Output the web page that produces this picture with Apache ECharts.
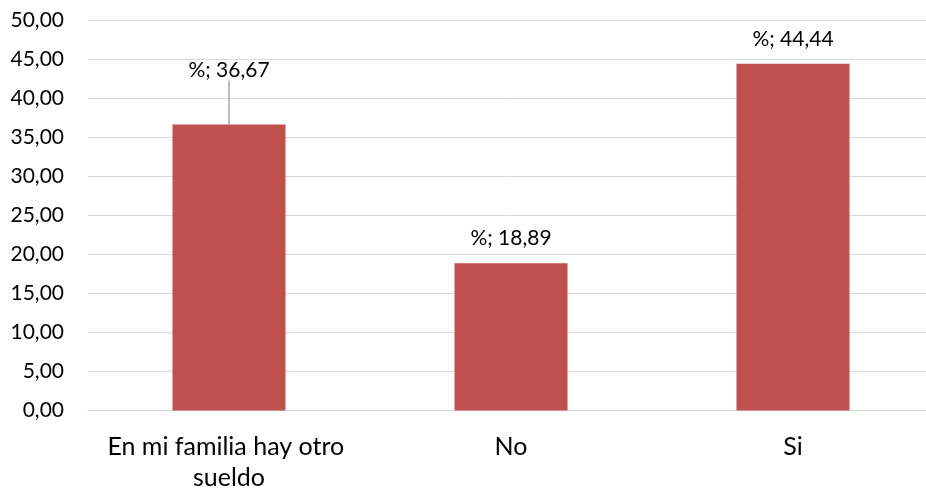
<!DOCTYPE html>
<html>
<head>
<meta charset="utf-8">
<script src="https://cdn.jsdelivr.net/npm/echarts@6/dist/echarts.min.js"></script>
<style>
html,body{margin:0;padding:0;background:#fff;}
#chart{width:926px;height:491px;}
</style>
</head>
<body>
<div id="chart"></div>
<script>
var categories = ['En mi familia hay otro sueldo', 'No', 'Si'];
var seriesName = '%';
var values = [36.67, 18.89, 44.44];
var yMin = 0, yMax = 50, yInterval = 5;

function fmt(v) { return v.toFixed(2).replace('.', ','); }

var FONT = 'Lato';
var chart = echarts.init(document.getElementById('chart'), null, {renderer: 'canvas'});
chart.setOption({
  animation: false,
  backgroundColor: '#ffffff',
  grid: {left: 88, top: 20.5, width: 846, height: 390, containLabel: false, outerBoundsMode: 'none'},
  xAxis: {
    type: 'category',
    data: categories,
    axisLine: {show: true, lineStyle: {color: '#D9D9D9', width: 1}},
    axisTick: {show: false},
    axisLabel: {
      color: '#000000', fontFamily: FONT, fontSize: 25, margin: 21,
      width: 280, overflow: 'break', lineHeight: 31, interval: 0
    }
  },
  yAxis: {
    type: 'value',
    min: yMin, max: yMax, interval: yInterval,
    axisLine: {show: false},
    axisTick: {show: false},
    splitLine: {lineStyle: {color: '#D9D9D9', width: 1}},
    axisLabel: {
      color: '#000000', fontFamily: FONT, fontSize: 21, margin: 24,
      formatter: function (v) { return fmt(v); }
    }
  },
  series: [{
    name: seriesName,
    type: 'bar',
    data: values.map(function (v, i) {
      return {value: v, labelLine: {show: i === 0}};
    }),
    barWidth: 113,
    itemStyle: {color: '#C0504D'},
    label: {
      show: true, position: 'top', distance: 14,
      color: '#000000', fontFamily: FONT, fontSize: 21,
      formatter: function (p) { return p.seriesName + '; ' + fmt(p.value); }
    },
    labelLayout: function (p) {
      if (p.dataIndex === 0) { return {dy: -30}; }
      return {};
    },
    labelLine: {show: true, lineStyle: {color: '#A6A6A6', width: 1.5}}
  }]
});
</script>
</body>
</html>
